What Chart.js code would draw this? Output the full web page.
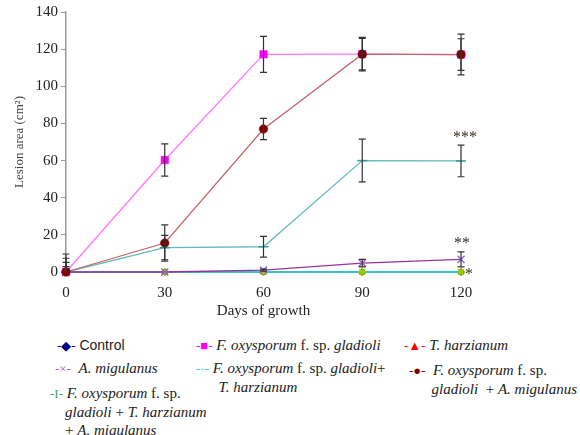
<!DOCTYPE html>
<html>
<head>
<meta charset="utf-8">
<script src="https://cdn.jsdelivr.net/npm/chart.js@4/dist/chart.umd.min.js"></script>
<style>
    html, body { margin: 0; padding: 0; background: #fff; }
    #wrap { position: relative; width: 580px; height: 435px; }
    #box { position: absolute; left: 0; top: 0; width: 580px; height: 325px; }
    .lg { position: absolute; font: 15px "Liberation Serif", serif; color: #222; white-space: nowrap; line-height: 18px; }
    .lg i { font-style: italic; }
    .sans { font-family: "Liberation Sans", sans-serif; font-size: 14px; }
    .mk { font-size: 13px; }
</style>
</head>
<body>
<div id="wrap">
    <div id="box"><canvas id="chart"></canvas></div>

    <div class="lg" style="left:57px; top:336px;"><span class="mk" style="color:#000080">-&#9670;-</span> <span class="sans">Control</span></div>
    <div class="lg" style="left:196px; top:336px;"><span class="mk" style="color:#ff00ff">-&#9632;-</span> <i>F. oxysporum</i> f. sp. <i>gladioli</i></div>
    <div class="lg" style="left:404px; top:336px;"><span class="mk" style="color:#ff0000">-&#9650;-</span> <i>T. harzianum</i></div>

    <div class="lg" style="left:55px; top:359px;"><span class="mk" style="color:#9966cc">-&times;-</span> &nbsp;<i>A. migulanus</i></div>
    <div class="lg" style="left:196px; top:359px;"><span class="mk" style="color:#33cccc">-&middot;-</span> <i>F. oxysporum</i> f. sp. <i>gladioli</i>+<br>&nbsp;&nbsp;&nbsp;&nbsp;&nbsp;&nbsp;<i>T. harzianum</i></div>
    <div class="lg" style="left:409px; top:361px;"><span class="mk" style="color:#800000">-&#9679;-</span> &nbsp;<i>F. oxysporum</i> f. sp.<br>&nbsp;&nbsp;&nbsp;&nbsp;&nbsp;&nbsp;<i>gladioli</i> &nbsp;+ <i>A. migulanus</i></div>

    <div class="lg" style="left:50px; top:384px;"><span class="mk" style="color:#33aa55">-I-</span> <i>F. oxysporum</i> f. sp.<br>&nbsp;&nbsp;&nbsp;&nbsp;<i>gladioli</i> + <i>T. harzianum</i><br>&nbsp;&nbsp;&nbsp;&nbsp;+ <i>A. migulanus</i></div>
</div>

<script>
// Days on the x axis
const days = [0, 30, 60, 90, 120];

// Lesion area (cm2), one array per treatment
const control = [0, 0, 0, 0, 0];
const foxy = [0, 60.3, 117.2, 117.3, 117.1];
const tharz = [0, 0, 0, 0, 0];
const amig = [0, 0, 1, 4.8, 6.8];
const foxyTharz = [0, 0, 0, 0, 0];
const foxyAmig = [0, 15.6, 77, 117.3, 117.1];
const foxyTharzAmig = [0, 13.1, 13.6, 60, 59.8];

// Error bar half widths
const foxyErr = [5.2, 8.7, 9.7, 9, 11];
const amigErr = [2.9, 0, 0.5, 2, 4];
const foxyAmigErr = [9.7, 9.8, 5.7, 8.5, 8.5];
const foxyTharzAmigErr = [7.4, 6.6, 5.6, 11.5, 8.5];

const yTicks = [0, 20, 40, 60, 80, 100, 120, 140];

// Significance marks
const stars = [
    { x: 121.2, y: 74, text: "***" },
    { x: 120.3, y: 16.7, text: "**" },
    { x: 122.4, y: 0, text: "*" },
];

const serif = "'Liberation Serif', 'Times New Roman', serif";

function toXY(values) {
    return values.map((v, i) => ({ x: days[i], y: v }));
}

// draws vertical error bars with caps
const errorBars = {
    id: "errorBars",
    afterDatasetsDraw(chart) {
        let ctx = chart.ctx;
        let xs = chart.scales.x, ys = chart.scales.y;
        let area = chart.chartArea;
        ctx.save();
        ctx.beginPath();
        ctx.rect(area.left - 10, area.top - 10, area.right - area.left + 20, area.bottom - area.top + 10);
        ctx.clip();
        ctx.strokeStyle = "#333";
        ctx.lineWidth = 1.2;
        chart.data.datasets.forEach(ds => {
            if (!ds.err) return;
            ds.data.forEach((p, i) => {
                let e = ds.err[i];
                if (!e) return;
                let px = xs.getPixelForValue(p.x);
                let top = ys.getPixelForValue(p.y + e);
                let bot = ys.getPixelForValue(p.y - e);
                ctx.beginPath();
                ctx.moveTo(px, top); ctx.lineTo(px, bot);
                ctx.moveTo(px - 3.5, top); ctx.lineTo(px + 3.5, top);
                ctx.moveTo(px - 3.5, bot); ctx.lineTo(px + 3.5, bot);
                ctx.stroke();
            });
        });
        ctx.restore();
    }
};

const starMarks = {
    id: "starMarks",
    afterDraw(chart) {
        let ctx = chart.ctx;
        ctx.save();
        ctx.font = "16px " + serif;
        ctx.fillStyle = "#3a3020";
        ctx.textAlign = "center";
        ctx.textBaseline = "middle";
        stars.forEach(s => {
            ctx.fillText(s.text, chart.scales.x.getPixelForValue(s.x), chart.scales.y.getPixelForValue(s.y) + 3);
        });
        ctx.restore();
    }
};

function series(label, values, err, line, point, style, radius, order) {
    return {
        label: label,
        data: toXY(values),
        err: err,
        borderColor: line,
        backgroundColor: point,
        pointBorderColor: point,
        pointBackgroundColor: point,
        pointStyle: style,
        pointRadius: radius,
        pointBorderWidth: style === "crossRot" || style === "star" || style === "line" ? 1.5 : 0.5,
        borderWidth: 1.3,
        tension: 0,
        clip: false,
        order: order,
    };
}

new Chart(document.getElementById("chart"), {
    type: "line",
    data: {
        datasets: [
            series("Control", control, null, "#000080", "#000080", "rectRot", 3.5, 7),
            series("T. harzianum", tharz, null, "#ff0000", "#ff0000", "triangle", 3.5, 6),
            series("F. oxysporum f. sp. gladioli + T. harzianum", foxyTharz, null, "#00ffff", "#99cc00", "star", 4, 4),
            series("A. migulanus", amig, amigErr, "#993399", "#9966cc", "crossRot", 5, 3),
            series("F. oxysporum f. sp. gladioli + T. harzianum + A. migulanus", foxyTharzAmig, foxyTharzAmigErr, "#66bbbb", "#339999", "line", 5, 5),
            series("F. oxysporum f. sp. gladioli", foxy, foxyErr, "#ff77ff", "#ff00ff", "rect", 5.3, 2),
            series("F. oxysporum f. sp. gladioli + A. migulanus", foxyAmig, foxyAmigErr, "#c06868", "#800000", "circle", 4.3, 1),
        ]
    },
    options: {
        responsive: true,
        maintainAspectRatio: false,
        animation: false,
        layout: { padding: { left: 0, top: 12, right: 119, bottom: 3 } },
        plugins: {
            legend: { display: false },
            tooltip: { enabled: false },
        },
        scales: {
            x: {
                type: "linear",
                min: 0,
                max: 120,
                afterBuildTicks: scale => { scale.ticks = days.map(v => ({ value: v })); },
                afterFit: scale => { scale.height = 50; },
                grid: { display: false },
                border: { display: true, color: "#999", width: 1 },
                ticks: { padding: 4, color: "#222", font: { family: serif, size: 15 } },
                title: { display: true, text: "Days of growth", color: "#222", padding: 2, font: { family: serif, size: 15 } },
            },
            y: {
                min: 0,
                max: 140,
                afterBuildTicks: scale => { scale.ticks = yTicks.map(v => ({ value: v })); },
                afterFit: scale => { scale.width = 66; },
                grid: { drawOnChartArea: false, tickLength: 5, color: "#999" },
                border: { display: true, color: "#999", width: 1.5 },
                ticks: { padding: 3, color: "#222", font: { family: serif, size: 15 } },
                title: { display: true, text: "Lesion area (cm²)", color: "#444", padding: { top: 12, bottom: 0 }, font: { family: serif, size: 13 } },
            }
        }
    },
    plugins: [errorBars, starMarks],
});
</script>
</body>
</html>
